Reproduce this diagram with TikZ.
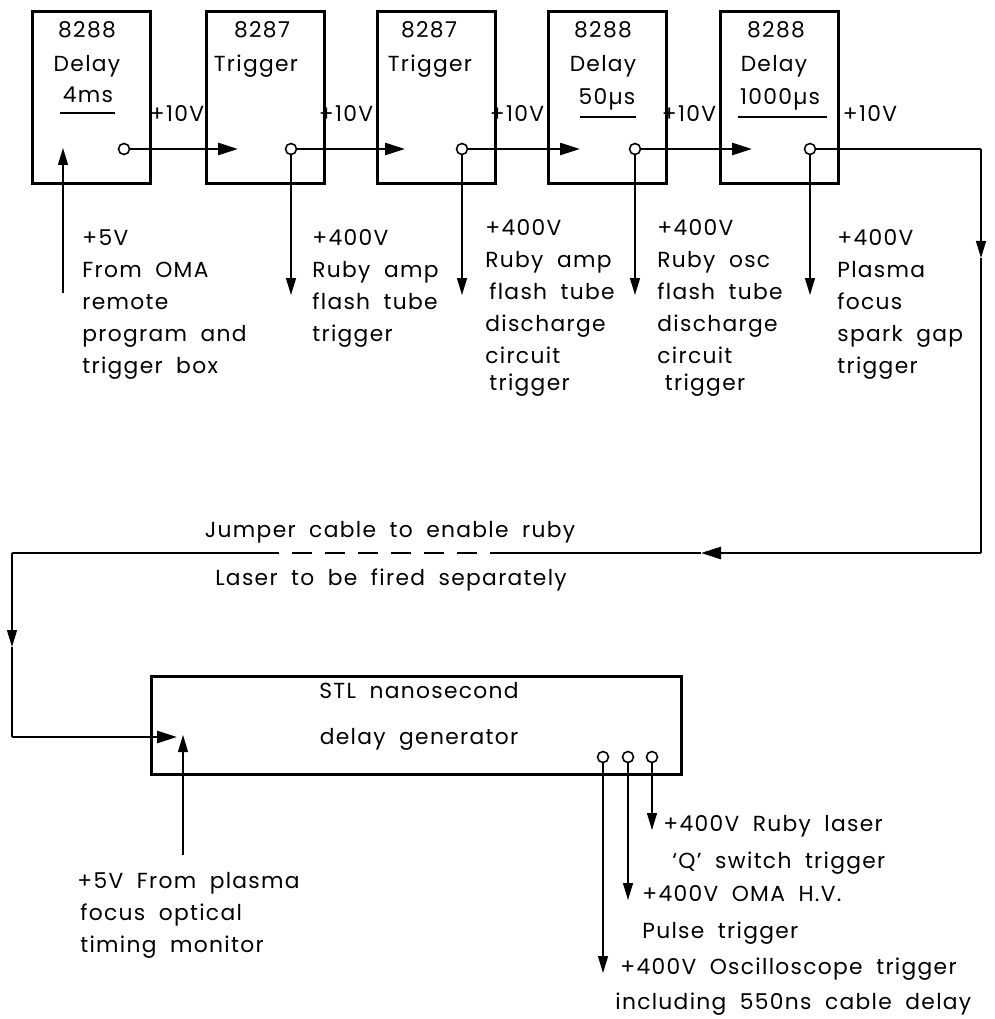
\documentclass[tikz,border=0pt]{standalone}
\usepackage{fontspec}
\setmainfont[LetterSpace=6,WordSpace=1.9]{Poppins}
\usetikzlibrary{arrows.meta,positioning}

\tikzset{
  unit/.style={draw, line width=1.8pt, minimum width=23.6mm, minimum height=34.4mm, anchor=north west, inner sep=0pt},
  port/.style={circle, draw, line width=0.9pt, fill=white, inner sep=0pt, minimum size=2.2mm},
  sig/.style={line width=1.5pt},
  wire/.style={line width=0.75pt},
  sigtip/.style={-{Triangle[length=4mm,width=2.4mm]}},
  wiretip/.style={-{Triangle[length=3.4mm,width=2mm]}},
  lbl/.style={align=left, anchor=base west, inner sep=0pt},
  txt/.style={anchor=base, inner sep=0pt},
}

\begin{document}
\begin{tikzpicture}[x=0.2mm, y=-0.2mm, font=\fontsize{12.4}{18.2}\selectfont]
    \useasboundingbox (0,0) rectangle (994,1019);

    % Delay and trigger units
    \node[unit] (d1) at (31,10) {};
    \node[unit] (d2) at (205,10) {};
    \node[unit] (d3) at (376,10) {};
    \node[unit] (d4) at (547,10) {};
    \node[unit] (d5) at (719,10) {};

    \node[txt] at (87,38) {8288};
    \node[txt] at (87,72) {Delay};
    \node[txt] at (88,103) {4ms};
    \draw[sig] (60,113) -- (115,113);

    \node[txt] at (262,38) {8287};
    \node[txt] at (256,72) {Trigger};
    \node[txt] at (429,38) {8287};
    \node[txt] at (430,72) {Trigger};

    \node[txt] at (603,38) {8288};
    \node[txt] at (603,72) {Delay};
    \node[txt] at (607,105) {50µs};
    \draw[sig] (580,117) -- (636,117);

    \node[txt] at (776,38) {8288};
    \node[txt] at (774,72) {Delay};
    \node[txt] at (780,105) {1000µs};
    \draw[sig] (738,117) -- (827,117);

    % Outputs
    \node[port] (o1) at (124,149) {};
    \node[port] (o2) at (291,149) {};
    \node[port] (o3) at (462,149) {};
    \node[port] (o4) at (635,149) {};
    \node[port] (o5) at (810,149) {};

    \coordinate (i2) at (238,149);
    \coordinate (i3) at (405,149);
    \coordinate (i4) at (580,149);
    \coordinate (i5) at (752,149);
    \draw[sig, sigtip] (o1) -- (i2);
    \draw[sig, sigtip] (o2) -- (i3);
    \draw[sig, sigtip] (o3) -- (i4);
    \draw[sig, sigtip] (o4) -- (i5);

    \node[txt] at (177,122) {+10V};
    \node[txt] at (346,122) {+10V};
    \node[txt] at (517,122) {+10V};
    \node[txt] at (689,122) {+10V};
    \node[txt] at (870,122) {+10V};

    % Trigger lines down
    \coordinate (f1) at (63,293);
    \coordinate (g1) at (63,148);
    \draw[wire, wiretip] (f1) -- (g1);
    \foreach \n/\x in {2/291, 3/462, 4/635, 5/810}
        \draw[wire, wiretip] (o\n) -- (\x,295);

    % base = last line
    \node[lbl] at (82,373) {+5V\\From OMA\\remote\\program and\\trigger box};
    \node[lbl] at (312,341) {+400V\\Ruby amp\\flash tube\\trigger};
    \node[lbl] at (485,390) {+400V\\Ruby amp\\\hspace*{0.8mm}flash tube\\discharge\\circuit\\[-1mm]\hspace*{0.8mm}trigger};
    \node[lbl] at (657,390) {+400V\\Ruby osc\\flash tube\\discharge\\circuit\\[-1mm]\hspace*{1.5mm}trigger};
    \node[lbl] at (837,373) {+400V\\Plasma\\focus\\spark gap\\trigger};

    % Loop to nanosecond generator
    \coordinate (c1) at (981,149);
    \coordinate (m1) at (981,258);
    \coordinate (c2) at (981,553);
    \coordinate (m2) at (701,553);
    \coordinate (j1) at (510,553);
    \coordinate (j2) at (270,553);
    \coordinate (c3) at (12,553);
    \coordinate (m3) at (12,647);
    \coordinate (c4) at (12,737);
    \coordinate (s1) at (177,737);

    \draw[sig] (o5) -- (c1);
    \draw[wire, wiretip] (c1) -- (m1);
    \draw[wire] (m1) -- (c2);
    \draw[sig, sigtip] (c2) -- (m2);
    \draw[sig] (m2) -- (j1);
    \draw[sig, dash pattern=on 4mm off 2.6mm] (j1) -- (j2);
    \draw[sig] (j2) -- (c3);
    \draw[wire, wiretip] (c3) -- (m3);
    \draw[wire] (m3) -- (c4);
    \draw[sig, sigtip] (c4) -- (s1);

    \node[txt] at (390,537) {Jumper cable to enable ruby};
    \node[txt] at (391,585) {Laser to be fired separately};

    % STL nanosecond delay generator
    \node[draw, line width=1.8pt, minimum width=106mm, minimum height=19.6mm, anchor=north west, inner sep=0pt] (stl) at (150,675) {};
    \node[txt] at (419,698) {STL nanosecond};
    \node[txt] at (419,744) {delay generator};

    \coordinate (p1) at (183,855);
    \coordinate (q1) at (183,735);
    \draw[wire, wiretip] (p1) -- (q1);
    \node[lbl] at (77,952) {+5V From plasma\\\hspace*{0.6mm}focus optical\\\hspace*{0.6mm}timing monitor};

    \node[port] (r1) at (603,757) {};
    \node[port] (r2) at (628,757) {};
    \node[port] (r3) at (652,757) {};
    \draw[wire, wiretip] (r3) -- (652,830);
    \draw[wire, wiretip] (r2) -- (628,900);
    \draw[wire, wiretip] (r1) -- (603,973);

    \node[lbl] at (663,868) {+400V Ruby laser\\[1mm]\hspace*{1.8mm}`Q' switch trigger};
    \node[lbl] at (642,938) {+400V OMA H.V.\\[1mm]Pulse trigger};
    \node[lbl] at (620,1009) {+400V Oscilloscope trigger\\[0.6mm]\hspace*{-1mm}including 550ns cable delay};
\end{tikzpicture}
\end{document}
